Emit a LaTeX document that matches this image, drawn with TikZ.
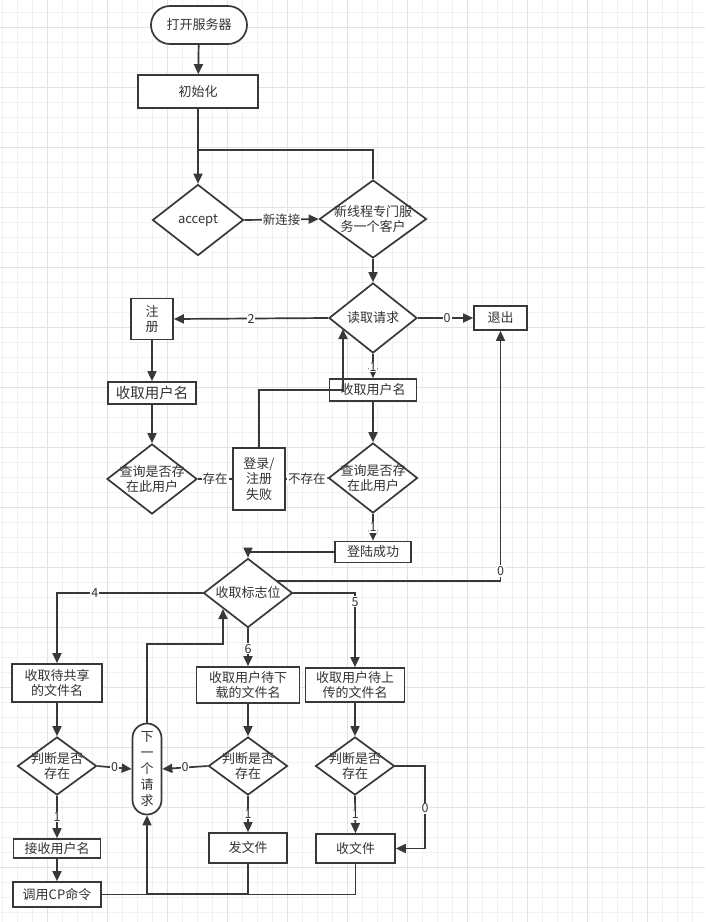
\documentclass[tikz,border=0pt]{standalone}
\usepackage{fontspec}
\setmainfont{Noto Sans CJK SC}
\usetikzlibrary{shapes.geometric,arrows.meta}
\definecolor{ln}{HTML}{383838}
\definecolor{tx}{HTML}{333333}
\definecolor{gmin}{HTML}{F1F1F1}
\definecolor{gmaj}{HTML}{E2E2E2}
\tikzset{
  base/.style={draw=ln,line width=1.7pt,text=tx,inner sep=0pt,font=\fontsize{13pt}{15.5pt}\selectfont,align=center},
  box/.style={base,rectangle,fill=white},
  term/.style={base,rectangle,rounded corners=#1,fill=white},
  dia/.style={base,diamond,fill=white},
  txt/.style={text=tx,inner sep=0pt,font=\fontsize{13pt}{15.5pt}\selectfont,align=center},
  conn/.style={draw=ln,line width=1.7pt},
  arr/.style={conn,-{Triangle[length=10pt,width=9pt]}},
  lab/.style={fill=white,text=tx,inner sep=1pt,font=\fontsize{12.5pt}{14pt}\selectfont},
}
\begin{document}
\begin{tikzpicture}[x=1pt,y=-1pt]
\useasboundingbox (0,0) rectangle (705,922);
\fill[white] (0,0) rectangle (705,922);
% grid
\foreach \x in {2.3,17.3,...,705} \draw[gmin,line width=0.7pt] (\x,0) -- (\x,922);
\foreach \y in {12.3,27.3,...,922} \draw[gmin,line width=0.7pt] (0,\y) -- (705,\y);
\foreach \x in {47.3,107.3,...,705} \draw[gmaj,line width=0.8pt] (\x,0) -- (\x,922);
\foreach \y in {27.3,87.3,...,922} \draw[gmaj,line width=0.8pt] (0,\y) -- (705,\y);

% nodes
\node[term=19pt,minimum width=96pt,minimum height=38pt] (start) at (199,25) {打开服务器};
\node[box,minimum width=120pt,minimum height=33pt] (init) at (198,91.5) {初始化};
\node[dia,minimum width=91pt,minimum height=71pt] (accept) at (198,220) {};
\node[txt] (acceptT) at (accept) {accept};
\node[dia,minimum width=107pt,minimum height=78pt] (thread) at (373,219) {};
\node[txt] (threadT) at (thread) {新线程专门服\\务一个客户};
\node[dia,minimum width=88pt,minimum height=70pt] (read) at (373,318) {};
\node[txt] (readT) at (read) {读取请求};
\node[box,minimum width=53pt,minimum height=24pt] (quit) at (500.5,318) {退出};
\node[box,minimum width=42pt,minimum height=41pt] (reg) at (152,319) {注\\册};
\node[box,minimum width=88pt,minimum height=22pt,font=\fontsize{14.5pt}{16pt}\selectfont] (nameL) at (152,393) {收取用户名};
\node[dia,minimum width=90pt,minimum height=70pt] (qL) at (152,479) {};
\node[txt] (qLT) at (qL) {查询是否存\\在此用户};
\node[box,minimum width=87pt,minimum height=22pt] (nameR) at (373,390) {收取用户名};
\node[dia,minimum width=89pt,minimum height=70pt] (qR) at (373,478) {};
\node[txt] (qRT) at (qR) {查询是否存\\在此用户};
\node[box,minimum width=52pt,minimum height=62pt] (fail) at (259,479) {登录/\\注册\\失败};
\node[box,minimum width=76pt,minimum height=21pt] (ok) at (373,552) {登陆成功};
\node[dia,minimum width=89pt,minimum height=69pt] (flag) at (248,593) {};
\node[txt] (flagT) at (flag) {收取标志位};
\node[box,minimum width=90pt,minimum height=38pt] (share) at (57,683) {收取待共享\\的文件名};
\node[box,minimum width=103pt,minimum height=36pt] (down) at (248,685) {收取用户待下\\载的文件名};
\node[box,minimum width=99pt,minimum height=34pt] (upl) at (355,685) {收取用户待上\\传的文件名};
\node[dia,minimum width=79pt,minimum height=58pt] (jL) at (57,766) {};
\node[txt] (jLT) at (jL) {判断是否\\存在};
\node[dia,minimum width=79pt,minimum height=58pt] (jM) at (248,766) {};
\node[txt] (jMT) at (jM) {判断是否\\存在};
\node[dia,minimum width=79pt,minimum height=58pt] (jR) at (355,766) {};
\node[txt] (jRT) at (jR) {判断是否\\存在};
\node[term=14.5pt,minimum width=29pt,minimum height=91pt,font=\fontsize{13pt}{16pt}\selectfont] (next) at (147,769) {下\\一\\个\\请\\求};
\node[box,minimum width=87pt,minimum height=19pt] (rname) at (57,848.5) {接收用户名};
\node[box,minimum width=88pt,minimum height=25pt] (cp) at (57,894.5) {调用CP命令};
\node[box,minimum width=78pt,minimum height=30pt] (send) at (248,848) {发文件};
\node[box,minimum width=79pt,minimum height=29pt] (recv) at (355.5,848.5) {收文件};

% connectors
\coordinate (j1) at (198,150);
\draw[arr] (start) -- (init);
\draw[arr] (init.south) -- (accept.north);
\draw[conn] (thread.north) |- (j1);
\draw[arr] (accept.east) -- node[lab] (l1) {新连接} (thread.west);
\draw[arr] (thread.south) -- (read.north);
\draw[arr] (read.east) -- node[lab,pos=0.53] (l2) {0} (quit.west);
\draw[arr] (read.west) -- node[lab] (l3) {2} (reg.east);
\draw[arr] (reg) -- (nameL);
\draw[arr] (nameL) -- (qL);
\draw[arr] (read.south) -- node[lab,pos=0.54] (l4) {1} (nameR.north);
\draw[arr] (nameR) -- (qR);
\draw[conn] (qL.east) -- node[lab] (l5) {存在} (fail.west);
\draw[conn] (qR.west) -- node[lab] (l6) {不存在} (fail.east);
\coordinate (j2) at (343,390);
\coordinate (j3) at (343,329);
\draw[arr] (fail.north) |- (j2) -- (j3);
\draw[arr] (qR.south) -- node[lab] (l7) {1} (ok.north);
\draw[arr] (ok.west) -| (flag.north);
\coordinate (f0) at (277,581);
\draw[arr] (f0) -| node[lab,pos=0.52] (l8) {0} (quit.south);
\draw[arr] (flag.west) -| node[lab,pos=0.37] (l9) {4} (share.north);
\draw[arr] (flag.east) -| node[lab,pos=0.56] (l10) {5} (upl.north);
\draw[arr] (flag.south) -- node[lab,pos=0.54] (l11) {6} (down.north);
\draw[arr] (share) -- (jL);
\draw[arr] (down) -- (jM);
\draw[arr] (upl) -- (jR);
\draw[arr] (jL.east) -- node[lab] (l12) {0} (next.west);
\draw[arr] (jM.west) -- node[lab] (l13) {0} (next.east);
\coordinate (j4) at (223,644);
\coordinate (j5) at (223,609);
\draw[arr] (next.north) |- (j4) -- (j5);
\draw[arr] (jL.south) -- node[lab] (l14) {1} (rname.north);
\draw[arr] (rname) -- (cp);
\draw[arr] (jM.south) -- node[lab] (l15) {1} (send.north);
\draw[arr] (jR.south) -- node[lab] (l16) {1} (recv.north);
\coordinate (j6) at (425,766);
\draw[arr] (jR.east) -- (j6) |- node[lab,pos=0.256] (l17) {0} (recv.east);
\coordinate (j7) at (147,894);
\draw[conn] (cp.east) -| (recv.south);
\draw[conn] (send.south) |- (j7);
\draw[arr] (j7) -- (next.south);
\end{tikzpicture}
\end{document}
